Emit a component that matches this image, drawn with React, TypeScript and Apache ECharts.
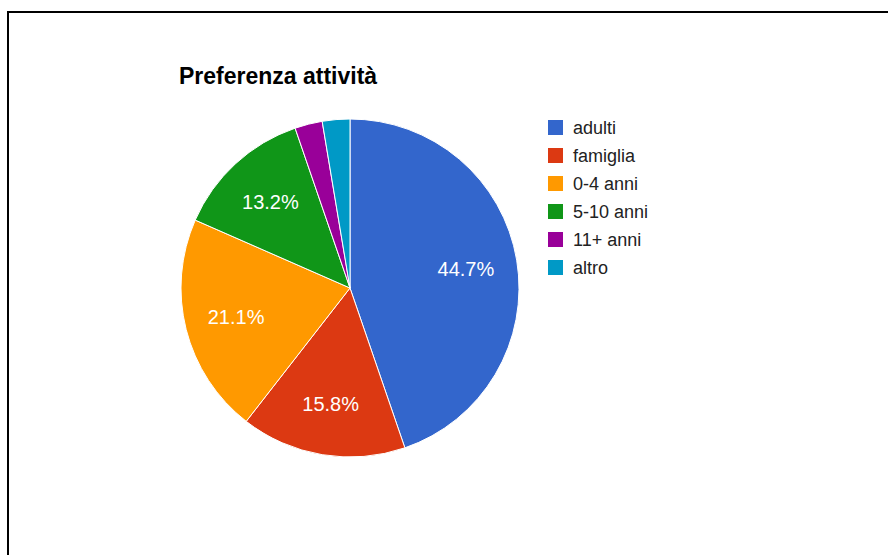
import React, { useEffect, useRef } from "react";
import * as echarts from "echarts";

const TITLE = "Preferenza attività";
const categories = ["adulti", "famiglia", "0-4 anni", "5-10 anni", "11+ anni", "altro"];
const counts = [17, 6, 8, 5, 1, 1];
const colors = ["#3366cc", "#dc3912", "#ff9900", "#109618", "#990099", "#0099c6"];

const FONT = "Arial, 'Liberation Sans', sans-serif";

export default function App() {
  const ref = useRef<HTMLDivElement>(null);
  useEffect(() => {
    if (!ref.current) return;
    const chart = echarts.init(ref.current, undefined, { renderer: "svg" });
    const data = categories.map((name, i) => ({ name, value: counts[i] }));
    chart.setOption({
      animation: false,
      color: colors,
      title: {
        text: TITLE,
        left: 179,
        top: 64,
        padding: 0,
        textStyle: { fontFamily: FONT, fontSize: 23, fontWeight: "bold", color: "#000" },
      },
      legend: {
        orient: "vertical",
        left: 546,
        top: 118,
        padding: 0,
        icon: "rect",
        itemWidth: 17,
        itemHeight: 17,
        itemGap: 9,
        data: categories,
        textStyle: { fontFamily: FONT, fontSize: 18, color: "#222", padding: [0, 0, 0, 4] },
      },
      graphic: [
        {
          type: "rect",
          shape: { x: 8, y: 12, width: 1000, height: 1000 },
          style: { fill: "none", stroke: "#000", lineWidth: 2 },
          silent: true,
        },
      ],
      series: [
        {
          type: "pie",
          center: [350, 288],
          radius: 169,
          startAngle: 90,
          clockwise: true,
          percentPrecision: 1,
          data,
          label: { show: false },
          labelLine: { show: false },
          itemStyle: { borderColor: "#fff", borderWidth: 1 },
          emphasis: { disabled: true },
        },
        {
          type: "pie",
          center: [350, 288],
          radius: [60, 169],
          startAngle: 90,
          clockwise: true,
          percentPrecision: 1,
          data,
          silent: true,
          legendHoverLink: false,
          itemStyle: { color: "rgba(0,0,0,0)", borderWidth: 0 },
          labelLine: { show: false },
          label: {
            show: true,
            position: "inside",
            color: "#fff",
            fontFamily: FONT,
            fontSize: 20,
            formatter: (p: any) => (p.percent < 5 ? "" : p.percent.toFixed(1) + "%"),
          },
          emphasis: { disabled: true },
        },
      ],
    });
    return () => chart.dispose();
  }, []);
  return (
    <div
      ref={ref}
      style={{ position: "absolute", left: 0, top: 0, width: 888, height: 555, background: "#fff" }}
    />
  );
}
